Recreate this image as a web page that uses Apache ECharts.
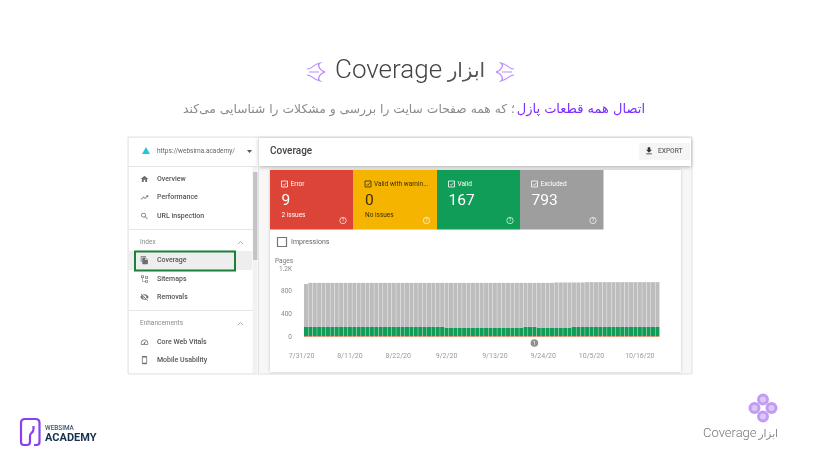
<!DOCTYPE html>
<html>
<head>
<meta charset="utf-8">
<style>
  html, body { margin: 0; padding: 0; background: #fff; }
  #chart { width: 820px; height: 461px; }
</style>
<script src="https://cdn.jsdelivr.net/npm/echarts@6/dist/echarts.min.js"></script>
</head>
<body>
<div id="chart"></div>
<script>
// days on the x axis, the first two and the last one carry no bar
const days = [
  '7/30/20','7/31/20','8/1/20','8/2/20','8/3/20','8/4/20','8/5/20','8/6/20','8/7/20','8/8/20','8/9/20','8/10/20',
  '8/11/20','8/12/20','8/13/20','8/14/20','8/15/20','8/16/20','8/17/20','8/18/20','8/19/20','8/20/20','8/21/20',
  '8/22/20','8/23/20','8/24/20','8/25/20','8/26/20','8/27/20','8/28/20','8/29/20','8/30/20','8/31/20','9/1/20',
  '9/2/20','9/3/20','9/4/20','9/5/20','9/6/20','9/7/20','9/8/20','9/9/20','9/10/20','9/11/20','9/12/20',
  '9/13/20','9/14/20','9/15/20','9/16/20','9/17/20','9/18/20','9/19/20','9/20/20','9/21/20','9/22/20','9/23/20',
  '9/24/20','9/25/20','9/26/20','9/27/20','9/28/20','9/29/20','9/30/20','10/1/20','10/2/20','10/3/20','10/4/20',
  '10/5/20','10/6/20','10/7/20','10/8/20','10/9/20','10/10/20','10/11/20','10/12/20','10/13/20','10/14/20','10/15/20',
  '10/16/20','10/17/20','10/18/20','10/19/20','10/20/20','10/21/20'
];
const errorPages = [
  null,null,16,16,16,16,16,16,16,16,16,16,16,16,16,16,16,16,16,16,16,16,16,16,16,16,16,16,16,16,16,16,16,16,
  16,16,16,16,16,16,16,16,16,16,16,16,16,16,16,16,16,16,16,16,16,16,16,16,16,16,16,16,16,16,16,16,16,16,
  16,16,16,16,16,16,16,16,16,16,16,16,16,16,16,null
];
const validPages = [
  null,null,160,160,160,160,160,160,160,160,160,160,160,160,160,160,160,160,160,160,160,160,160,160,160,160,160,160,160,160,160,160,160,160,
  150,150,150,150,150,150,150,150,150,150,150,150,150,150,150,150,150,150,162,162,162,150,150,150,150,150,150,150,150,160,160,160,160,160,
  160,160,160,160,160,160,160,160,160,160,160,160,160,160,160,null
];
const excludedPages = [
  null,null,759,779,779,779,779,779,779,779,779,779,779,779,779,779,779,779,779,779,779,779,779,779,779,779,779,779,779,779,779,779,779,779,
  789,789,789,789,789,789,789,789,789,789,789,789,789,789,789,789,789,789,777,777,777,789,789,789,789,796,796,796,796,786,786,786,792,792,
  792,792,792,792,792,792,792,792,792,792,792,792,792,792,792,null
];
const yTicks = { 0: '0', 400: '400', 800: '800', 1200: '1.2K' };
const annotationDay = '9/22/20';
const annotationLevel = -105;

const navTop = ['Overview', 'Performance', 'URL inspection'];
const navIndex = ['Coverage', 'Sitemaps', 'Removals'];
const navEnh = ['Core Web Vitals', 'Mobile Usability'];
const cards = [
  { title: 'Error', value: '9', note: '2 issues', bg: '#db4437', fg: '#fff' },
  { title: 'Valid with warnin...', value: '0', note: 'No issues', bg: '#f4b400', fg: '#3c2f00' },
  { title: 'Valid', value: '167', note: '', bg: '#0f9d58', fg: '#fff' },
  { title: 'Excluded', value: '793', note: '', bg: '#9e9e9e', fg: '#fff' }
];

const icons = {
  Overview: 'M10 20v-6h4v6h5v-8h3L12 3 2 12h3v8z',
  Performance: 'M16 6l2.29 2.29-4.88 4.88-4-4L2 16.59 3.41 18l6-6 4 4 6.3-6.29L22 12V6z',
  'URL inspection': 'M15.5 14h-.79l-.28-.27C15.41 12.59 16 11.11 16 9.5 16 5.91 13.09 3 9.5 3S3 5.91 3 9.5 5.91 16 9.5 16c1.61 0 3.09-.59 4.23-1.57l.27.28v.79l5 4.99L20.49 19l-4.99-5zm-6 0C7.01 14 5 11.99 5 9.5S7.01 5 9.5 5 14 7.01 14 9.5 11.99 14 9.5 14z',
  Coverage: 'M16 1H4c-1.1 0-2 .9-2 2v14h2V3h12V1zm-1 4l6 6v10c0 1.1-.9 2-2 2H7.99C6.89 23 6 22.1 6 21l.01-14c0-1.1.89-2 1.99-2h7zm-1 7h5.5L14 6.5V12z',
  Sitemaps: 'M3 2h7v7H3zM5 3.5v4h3v-4zM14 15h7v7h-7zM16 16.5v4h3v-4zM6 9h1.5v8H14v1.5H6zM14 4h7v7h-7zM16 5.5v4h3v-4z',
  Removals: 'M12 7c2.76 0 5 2.24 5 5 0 .65-.13 1.26-.36 1.83l2.92 2.92c1.51-1.26 2.7-2.89 3.43-4.75-1.73-4.39-6-7.5-11-7.5-1.4 0-2.74.25-3.98.7l2.16 2.16C10.74 7.13 11.35 7 12 7zM2 4.27l2.28 2.28.46.46C3.08 8.3 1.78 10.02 1 12c1.73 4.39 6 7.5 11 7.5 1.55 0 3.03-.3 4.38-.84l.42.42L19.73 22 21 20.73 3.27 3 2 4.27zM7.53 9.8l1.55 1.55c-.05.21-.08.43-.08.65 0 1.66 1.34 3 3 3 .22 0 .44-.03.65-.08l1.55 1.55c-.67.33-1.41.53-2.2.53-2.76 0-5-2.24-5-5 0-.79.2-1.53.53-2.2z',
  'Core Web Vitals': 'M12 5C6.5 5 2 9.5 2 15c0 1.5.3 2.8.9 4h18.2c.6-1.2.9-2.5.9-4 0-5.5-4.5-10-10-10zm0 2c4.4 0 8 3.6 8 8 0 .7-.1 1.4-.3 2H4.3c-.2-.6-.3-1.3-.3-2 0-4.4 3.6-8 8-8zm4 2l-5.3 4.7a2 2 0 1 0 2.8 2.6z',
  'Mobile Usability': 'M8 1h8a3 3 0 0 1 3 3v16a3 3 0 0 1-3 3H8a3 3 0 0 1-3-3V4a3 3 0 0 1 3-3zm-1 4v14h10V5z'
};
const downloadIcon = 'M19 9h-4V3H9v6H5l7 7 7-7zM5 18v2h14v-2H5z';

const UI = 'Roboto, sans-serif';
const FA = '"DejaVu Sans", sans-serif';

// the graphic component has no plain path type, so svg strings get registered as shapes
const shapeNames = {};
function shapeFor(d) {
  if (!shapeNames[d]) {
    shapeNames[d] = 'svgShape' + Object.keys(shapeNames).length;
    echarts.graphic.registerShape(shapeNames[d], echarts.graphic.extendPath(d, {}));
  }
  return shapeNames[d];
}
function rect(x, y, w, h, fill, extra) {
  return Object.assign({ type: 'rect', shape: { x, y, width: w, height: h }, style: { fill }, silent: true }, extra || {});
}
function label(text, x, y, font, fill, align) {
  return { type: 'text', silent: true, z: 5, style: { text, x, y, font, fill, textAlign: align || 'left', textVerticalAlign: 'middle' } };
}
function icon(d, x, y, size, fill) {
  const s = size / 24;
  return { type: shapeFor(d), silent: true, z: 5, x, y, scaleX: s, scaleY: s, style: { fill } };
}
function curve(d, stroke, lineWidth) {
  return { type: shapeFor(d), silent: true, z: 5, style: { stroke, lineWidth, fill: 'none' } };
}
function navRow(name, y) {
  return [
    icon(icons[name], 140, y - 4.5, 9, '#6b6f73'),
    label(name, 157, y, '500 7px ' + UI, '#555')
  ];
}
function titleOrnament(cx, cy, dir) {
  // purple flourish drawn from the outer tip, dir flips it left or right
  const tip = cx - dir * 9;
  const end = cx + dir * 9;
  const d = 'M' + tip + ' ' + cy +
    'C' + (cx - dir * 3) + ' ' + (cy - 2) + ' ' + (cx - dir * 1) + ' ' + (cy - 7) + ' ' + (cx - dir * 4) + ' ' + (cy - 9) +
    'C' + (cx + dir * 3) + ' ' + (cy - 8) + ' ' + (cx + dir * 3) + ' ' + (cy - 3) + ' ' + end + ' ' + (cy - 3) +
    'M' + tip + ' ' + cy +
    'C' + (cx - dir * 3) + ' ' + (cy + 2) + ' ' + (cx - dir * 1) + ' ' + (cy + 7) + ' ' + (cx - dir * 4) + ' ' + (cy + 9) +
    'C' + (cx + dir * 3) + ' ' + (cy + 8) + ' ' + (cx + dir * 3) + ' ' + (cy + 3) + ' ' + end + ' ' + (cy + 3) +
    'M' + (cx - dir * 3) + ' ' + cy + 'L' + (cx + dir * 7) + ' ' + cy;
  return curve(d, '#bb8afb', 1.2);
}

const elements = [];
// slide heading
elements.push(label('Coverage', 335, 71, '300 26px ' + UI, '#444'));
elements.push(label('ابزار', 485, 72, '20px ' + FA, '#555', 'right'));
elements.push(titleOrnament(316, 72, -1), titleOrnament(505, 72, 1));
elements.push(label('اتصال همه قطعات پازل', 645, 109.5, '13px ' + FA, '#7b2cff', 'right'));
elements.push(label('؛ که همه صفحات سایت را بررسی و مشکلات را شناسایی می‌کند', 515, 109.5, '12.3px ' + FA, '#8a8a8a', 'right'));

// app frame
elements.push(rect(128, 137, 564, 237, '#f7f7f7', { style: { fill: '#f7f7f7', stroke: '#e2e2e2', lineWidth: 1 } }));
elements.push(rect(129, 138, 129, 235, '#fff'));
elements.push(rect(259, 138, 432, 28, '#fff', { style: { fill: '#fff', shadowBlur: 4, shadowColor: 'rgba(0,0,0,0.3)', shadowOffsetY: 1 } }));
elements.push(rect(258, 138, 1, 235, '#e3e3e3', { z: 3 }));
elements.push(rect(129, 166, 129, 1, '#e3e3e3', { z: 3 }));
elements.push({ type: 'polygon', silent: true, z: 5, shape: { points: [[142, 154], [146, 147], [150, 154]] }, style: { fill: '#25c6d8' } });
elements.push(label('https://websima.academy/', 157, 151, '6.5px ' + UI, '#666'));
elements.push({ type: 'polygon', silent: true, z: 5, shape: { points: [[247, 150], [252, 150], [249.5, 153]] }, style: { fill: '#555' } });
elements.push(label('Coverage', 270, 151, '500 10px ' + UI, '#444'));
elements.push(rect(639, 143, 51, 17, '#f5f5f5', { z: 4 }));
elements.push(icon(downloadIcon, 644, 146, 10, '#333'));
elements.push(label('EXPORT', 658, 151.5, '500 6.6px ' + UI, '#666'));

// sidebar
elements.push(rect(129, 251, 123, 19, '#eeeeee', { z: 1 }));
navTop.forEach(function (n, i) { elements.push(...navRow(n, [179, 197.5, 216][i])); });
navIndex.forEach(function (n, i) { elements.push(...navRow(n, [260, 279, 297][i])); });
navEnh.forEach(function (n, i) { elements.push(...navRow(n, [342, 360][i])); });
elements.push(rect(129, 229, 124, 1, '#e6e6e6', { z: 3 }), rect(129, 310, 124, 1, '#e6e6e6', { z: 3 }));
elements.push(label('Index', 140, 242, '6.5px ' + UI, '#8a8a8a'));
elements.push(label('Enhancements', 140, 323, '6.5px ' + UI, '#8a8a8a'));
elements.push(curve('M238 244L240.5 241.5L243 244M238 325L240.5 322.5L243 325', '#999', 0.8));
elements.push(rect(135, 251.5, 100, 19, 'none', { z: 6, style: { fill: 'none', stroke: '#1a7f37', lineWidth: 2 } }));
elements.push(rect(252.5, 167, 5, 206, '#f2f2f2', { z: 3 }));
elements.push(rect(253, 172, 4.5, 88, '#c4c4c4', { z: 4 }));

// main card
elements.push(rect(270, 170, 411, 202, '#fff', { style: { fill: '#fff', shadowBlur: 3, shadowColor: 'rgba(0,0,0,0.2)' } }));
cards.forEach(function (c, i) {
  const x = [270, 353.5, 437, 520][i];
  const w = [83.5, 83.5, 83, 83.5][i];
  elements.push(rect(x, 170, w, 59.5, c.bg, { z: 1 }));
  elements.push(rect(x + 11.5, 181, 6, 6, 'none', { z: 5, style: { fill: 'none', stroke: c.fg, lineWidth: 0.8 } }));
  elements.push(curve('M' + (x + 13) + ' 184.2L' + (x + 14.3) + ' 185.5L' + (x + 16.5) + ' 182.7', c.fg, 0.7));
  elements.push(label(c.title, x + 20.5, 184.5, '6.5px ' + UI, c.fg));
  elements.push(label(c.value, x + 11.5, 201.5, '15.5px ' + UI, c.fg));
  if (c.note) elements.push(label(c.note, x + 11.5, 215, '6.5px ' + UI, c.fg));
  elements.push({ type: 'circle', silent: true, z: 5, shape: { cx: x + 73, cy: 220.5, r: 3.2 }, style: { fill: 'none', stroke: 'rgba(255,255,255,0.75)', lineWidth: 0.9 } });
  elements.push(label('?', x + 73, 220.7, '4.5px ' + UI, 'rgba(255,255,255,0.85)', 'center'));
});
elements.push(rect(277.5, 237.5, 9, 9, 'none', { z: 5, style: { fill: 'none', stroke: '#757575', lineWidth: 1.2 } }));
elements.push(label('Impressions', 291, 242, '7px ' + UI, '#666'));

// logo, bottom left
elements.push(curve('M39.5 423Q39.5 419 35.5 419L25 419Q21 419 21 423L21 442Q21 445 24 445L27 445Q30 445 30 442L30 436Q30 434 31.5 433Q33.5 431.5 33.500 429L33.5 426M34 445L36.5 445Q39.5 445 39.5 442L39.5 423', '#8a3ff0', 2.2));
elements.push(label('WEBSIMA', 45, 428.5, '500 6.4px ' + UI, '#3b5570'));
elements.push(label('ACADEMY', 45, 438, '700 11px ' + UI, '#16324f'));

// ornament and caption, bottom right
[[763, 399.5], [754.5, 408], [771.5, 408], [763, 416.5]].forEach(function (p) {
  elements.push({ type: 'circle', silent: true, z: 5, shape: { cx: p[0], cy: p[1], r: 4.5 }, style: { fill: '#dcc8f9', stroke: '#c39bf3', lineWidth: 3 } });
});
elements.push(label('Coverage', 703, 434, '300 13px ' + UI, '#777'));
elements.push(label('ابزار', 778, 434.5, '10.5px ' + FA, '#888', 'right'));

const chart = echarts.init(document.getElementById('chart'));
chart.setOption({
  animation: false,
  textStyle: { fontFamily: UI },
  grid: { left: 295, top: 269, width: 369, height: 68 },
  xAxis: {
    type: 'category',
    data: days,
    axisLine: { show: false },
    axisTick: { show: false },
    axisLabel: {
      interval: function (i) { return i % 11 === 1; },
      color: '#999',
      fontSize: 7,
      margin: 16
    }
  },
  yAxis: {
    type: 'value',
    min: 0,
    max: 1200,
    interval: 400,
    name: 'Pages',
    nameLocation: 'end',
    nameGap: 4,
    nameTextStyle: { color: '#777', fontSize: 6.5, align: 'right', padding: [0, 2, 0, 0] },
    axisLine: { show: false },
    axisTick: { show: false },
    axisLabel: { color: '#888', fontSize: 6.5, margin: 3, formatter: function (v) { return yTicks[v]; } },
    splitLine: { lineStyle: { color: '#f3f3f3', width: 1 } }
  },
  series: [
    { name: 'Error', type: 'bar', stack: 'pages', data: errorPages, barCategoryGap: '8%', z: 3, itemStyle: { color: '#f08a70' } },
    { name: 'Valid', type: 'bar', stack: 'pages', data: validPages, z: 3, itemStyle: { color: '#0f9d58' } },
    { name: 'Excluded', type: 'bar', stack: 'pages', data: excludedPages, z: 3, itemStyle: { color: '#bdbdbd' } }
  ]
});

// the annotation sits under the plot, markPoint would drop it as out of range
const spot = chart.convertToPixel({ xAxisIndex: 0, yAxisIndex: 0 }, [annotationDay, annotationLevel]);
elements.push({ type: 'circle', silent: true, z: 5, shape: { cx: spot[0], cy: spot[1], r: 3.8 }, style: { fill: '#8f8f8f' } });
elements.push(label('1', spot[0], spot[1] + 0.3, '5px ' + UI, '#fff', 'center'));
chart.setOption({ graphic: { elements: elements } });

window.addEventListener('resize', function () { chart.resize(); });
</script>
</body>
</html>
